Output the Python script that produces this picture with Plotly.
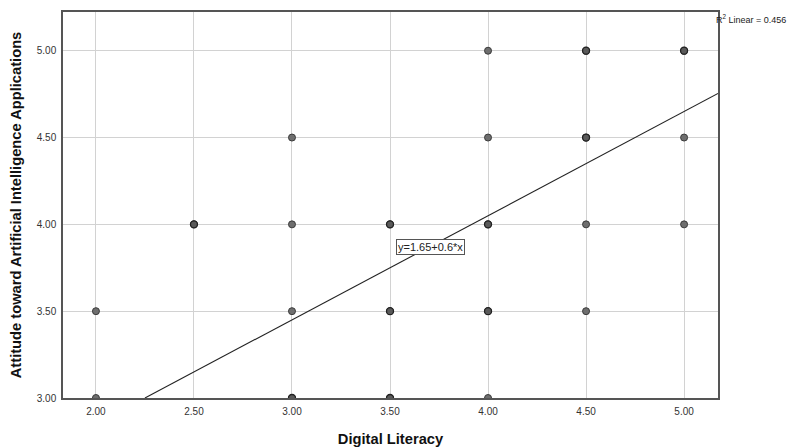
import plotly.graph_objects as go

# Observed (Digital Literacy, Attitude) pairs
digital_literacy = [2.0, 2.0, 2.5, 3.0, 3.0, 3.0, 3.0, 3.5, 3.5, 3.5,
                    4.0, 4.0, 4.0, 4.0, 4.0, 4.5, 4.5, 4.5, 4.5, 5.0, 5.0, 5.0]
attitude = [3.5, 3.0, 4.0, 4.5, 4.0, 3.5, 3.0, 4.0, 3.5, 3.0,
            5.0, 4.5, 4.0, 3.5, 3.0, 5.0, 4.5, 4.0, 3.5, 5.0, 4.5, 4.0]
# points drawn darker (overlapping cases)
dense_x = [2.5, 3.5, 3.5, 3.5, 4.0, 4.0, 4.5, 4.5, 5.0, 3.0]
dense_y = [4.0, 4.0, 3.5, 3.0, 4.0, 3.5, 5.0, 4.5, 5.0, 3.0]

intercept = 1.65
slope = 0.6
r2 = 0.456
x_ticks = [2.0, 2.5, 3.0, 3.5, 4.0, 4.5, 5.0]
y_ticks = [3.0, 3.5, 4.0, 4.5, 5.0]
x_range = [1.832, 5.173]
y_range = [3.0, 5.223]

fig = go.Figure()

# fit line
x0 = (y_range[0] - intercept) / slope
x1 = x_range[1]
fig.add_trace(go.Scatter(x=[x0, x1], y=[intercept + slope * x0, intercept + slope * x1],
                         mode="lines", line=dict(color="#222222", width=1.1),
                         hoverinfo="skip", showlegend=False))

fig.add_trace(go.Scatter(x=digital_literacy, y=attitude, mode="markers",
                         marker=dict(size=7, color="#6e6e6e",
                                     line=dict(color="#3a3a3a", width=1)),
                         showlegend=False))
fig.add_trace(go.Scatter(x=dense_x, y=dense_y, mode="markers",
                         marker=dict(size=7, color="#5a5a5a",
                                     line=dict(color="#222222", width=1.3)),
                         showlegend=False))

fig.add_annotation(x=3.709, y=3.869, xref="x", yref="y",
                   text="y=1.65+0.6*x", showarrow=False,
                   font=dict(family="Liberation Sans, Arial", size=11, color="#222222"),
                   bgcolor="white", bordercolor="#555555", borderwidth=1, borderpad=1)

fig.add_annotation(x=1.0, y=1.0, xref="paper", yref="paper", xanchor="left", yanchor="top",
                   text=f"R<sup>2</sup> Linear = {r2}", showarrow=False, xshift=-4, yshift=1,
                   font=dict(family="Liberation Sans, Arial", size=9, color="#222222"))

axis_common = dict(showgrid=True, gridcolor="#d2d2d2", gridwidth=1,
                   showline=True, linecolor="#555555", linewidth=1.5, mirror=True,
                   zeroline=False, ticks="outside", ticklen=3, tickcolor="rgba(0,0,0,0)",
                   tickformat=".2f",
                   tickfont=dict(family="Liberation Sans, Arial", size=10, color="#333333"))

fig.update_xaxes(range=x_range, tickvals=x_ticks,
                 title=dict(text="<b>Digital Literacy</b>", standoff=18,
                            font=dict(family="Liberation Sans, Arial", size=14.7, color="#111111")),
                 **axis_common)
fig.update_yaxes(range=y_range, tickvals=y_ticks,
                 title=dict(text="<b>Attitude toward Artificial Intelligence Applications</b>", standoff=15,
                            font=dict(family="Liberation Sans, Arial", size=14.7, color="#111111")),
                 **axis_common)

fig.update_layout(width=790, height=439, plot_bgcolor="white", paper_bgcolor="white",
                  margin=dict(l=55, r=80, t=2, b=48))

fig.write_html("out.html")
